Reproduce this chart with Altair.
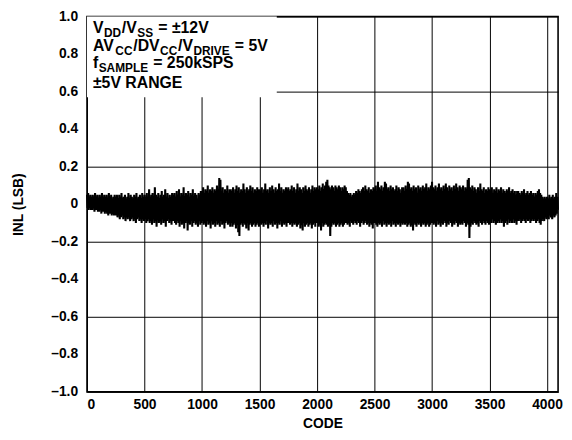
import altair as alt
import pandas as pd

# INL (LSB), one value every 5 codes, in blocks of 250 codes
inl_0000 = [0.05,-0.02, 0.06,-0.03, 0.04,-0.02, 0.05,-0.03, 0.03,-0.03,
            0.05,-0.02, 0.04,-0.04, 0.06,-0.03, 0.04,-0.03, 0.05,-0.04,
            0.03,-0.04, 0.05,-0.03, 0.04,-0.05, 0.06,-0.04, 0.03,-0.04,
            0.05,-0.05, 0.04,-0.04, 0.05,-0.05, 0.03,-0.06, 0.06,-0.05,
            0.04,-0.05, 0.05,-0.06, 0.03,-0.05, 0.04,-0.06, 0.05,-0.06]
inl_0250 = [0.04,-0.06, 0.05,-0.07, 0.03,-0.06, 0.05,-0.08, 0.04,-0.07,
            0.06,-0.06, 0.03,-0.08, 0.04,-0.07, 0.05,-0.09, 0.03,-0.07,
            0.04,-0.08, 0.06,-0.07, 0.03,-0.09, 0.05,-0.08, 0.04,-0.07,
            0.03,-0.09, 0.05,-0.08, 0.04,-0.10, 0.06,-0.08, 0.03,-0.07,
            0.04,-0.09, 0.05,-0.08, 0.03,-0.10, 0.06,-0.08, 0.04,-0.09]
inl_0500 = [0.05,-0.08, 0.04,-0.10, 0.06,-0.09, 0.03,-0.08, 0.08,-0.10,
            0.04,-0.09, 0.05,-0.11, 0.06,-0.08, 0.04,-0.10, 0.09,-0.09,
            0.05,-0.12, 0.04,-0.08, 0.06,-0.10, 0.03,-0.09, 0.05,-0.11,
            0.07,-0.08, 0.04,-0.10, 0.05,-0.09, 0.08,-0.12, 0.04,-0.09,
            0.06,-0.08, 0.03,-0.10, 0.05,-0.09, 0.04,-0.11, 0.06,-0.09]
inl_0750 = [0.05,-0.09, 0.06,-0.10, 0.04,-0.11, 0.07,-0.09, 0.05,-0.10,
            0.08,-0.12, 0.04,-0.09, 0.06,-0.11, 0.05,-0.10, 0.09,-0.13,
            0.04,-0.10, 0.06,-0.09, 0.05,-0.14, 0.07,-0.10, 0.04,-0.11,
            0.06,-0.09, 0.05,-0.12, 0.08,-0.10, 0.04,-0.09, 0.06,-0.11,
            0.05,-0.10, 0.03,-0.12, 0.06,-0.09, 0.05,-0.11, 0.07,-0.10]
inl_1000 = [0.07,-0.09, 0.09,-0.11, 0.06,-0.10, 0.08,-0.12, 0.07,-0.09,
            0.10,-0.11, 0.06,-0.10, 0.08,-0.13, 0.07,-0.09, 0.09,-0.11,
            0.06,-0.10, 0.08,-0.12, 0.07,-0.09, 0.10,-0.11, 0.08,-0.10,
            0.14,-0.12, 0.13,-0.09, 0.07,-0.11, 0.09,-0.10, 0.06,-0.13,
            0.08,-0.10, 0.07,-0.09, 0.10,-0.11, 0.06,-0.10, 0.08,-0.12]
inl_1250 = [0.08,-0.10, 0.07,-0.12, 0.09,-0.11, 0.06,-0.10, 0.08,-0.13,
            0.10,-0.11, 0.07,-0.15, 0.09,-0.17, 0.06,-0.11, 0.08,-0.10,
            0.07,-0.12, 0.11,-0.10, 0.08,-0.11, 0.06,-0.13, 0.09,-0.10,
            0.07,-0.14, 0.08,-0.11, 0.10,-0.10, 0.07,-0.12, 0.09,-0.11,
            0.06,-0.10, 0.08,-0.12, 0.07,-0.11, 0.09,-0.10, 0.08,-0.12]
inl_1500 = [0.08,-0.10, 0.07,-0.11, 0.09,-0.10, 0.06,-0.12, 0.08,-0.10,
            0.11,-0.11, 0.07,-0.09, 0.08,-0.13, 0.06,-0.10, 0.09,-0.11,
            0.07,-0.10, 0.10,-0.12, 0.08,-0.09, 0.06,-0.11, 0.09,-0.10,
            0.07,-0.13, 0.08,-0.10, 0.11,-0.11, 0.07,-0.09, 0.09,-0.12,
            0.06,-0.10, 0.08,-0.11, 0.07,-0.10, 0.09,-0.12, 0.08,-0.10]
inl_1750 = [0.09,-0.10, 0.07,-0.11, 0.08,-0.10, 0.10,-0.12, 0.07,-0.10,
            0.09,-0.11, 0.06,-0.10, 0.08,-0.12, 0.11,-0.11, 0.07,-0.10,
            0.09,-0.13, 0.08,-0.11, 0.06,-0.14, 0.09,-0.10, 0.07,-0.12,
            0.10,-0.11, 0.08,-0.10, 0.07,-0.12, 0.09,-0.11, 0.06,-0.10,
            0.08,-0.13, 0.10,-0.11, 0.07,-0.10, 0.09,-0.12, 0.08,-0.10]
inl_2000 = [0.09,-0.10, 0.08,-0.12, 0.10,-0.11, 0.07,-0.14, 0.09,-0.10,
            0.11,-0.12, 0.08,-0.11, 0.10,-0.10, 0.12,-0.11, 0.13,-0.12,
            0.10,-0.11, 0.09,-0.17, 0.08,-0.12, 0.10,-0.10, 0.09,-0.11,
            0.07,-0.10, 0.10,-0.12, 0.09,-0.11, 0.08,-0.10, 0.10,-0.12,
            0.09,-0.11, 0.07,-0.10, 0.09,-0.12, 0.08,-0.11, 0.10,-0.10]
inl_2250 = [0.09,-0.10, 0.07,-0.11, 0.06,-0.10, 0.05,-0.12, 0.06,-0.09,
            0.04,-0.10, 0.05,-0.11, 0.06,-0.09, 0.05,-0.10, 0.07,-0.11,
            0.06,-0.09, 0.08,-0.10, 0.07,-0.12, 0.06,-0.10, 0.08,-0.09,
            0.09,-0.11, 0.07,-0.10, 0.10,-0.09, 0.08,-0.11, 0.07,-0.10,
            0.09,-0.12, 0.06,-0.10, 0.08,-0.11, 0.07,-0.13, 0.09,-0.10]
inl_2500 = [0.08,-0.10, 0.10,-0.11, 0.07,-0.12, 0.12,-0.10, 0.09,-0.11,
            0.08,-0.10, 0.10,-0.12, 0.07,-0.09, 0.09,-0.11, 0.12,-0.10,
            0.11,-0.12, 0.08,-0.10, 0.09,-0.11, 0.07,-0.10, 0.10,-0.12,
            0.08,-0.09, 0.09,-0.11, 0.07,-0.10, 0.08,-0.12, 0.10,-0.10,
            0.07,-0.11, 0.09,-0.10, 0.08,-0.12, 0.06,-0.10, 0.09,-0.11]
inl_2750 = [0.09,-0.10, 0.07,-0.11, 0.10,-0.10, 0.08,-0.12, 0.12,-0.11,
            0.11,-0.10, 0.08,-0.12, 0.09,-0.11, 0.07,-0.14, 0.10,-0.10,
            0.08,-0.11, 0.09,-0.12, 0.06,-0.10, 0.10,-0.11, 0.08,-0.10,
            0.09,-0.12, 0.07,-0.10, 0.10,-0.11, 0.08,-0.10, 0.09,-0.12,
            0.11,-0.11, 0.07,-0.10, 0.09,-0.12, 0.08,-0.11, 0.10,-0.10]
inl_3000 = [0.12,-0.10, 0.09,-0.11, 0.08,-0.10, 0.10,-0.12, 0.07,-0.09,
            0.09,-0.11, 0.11,-0.10, 0.08,-0.12, 0.09,-0.10, 0.07,-0.11,
            0.10,-0.09, 0.08,-0.10, 0.11,-0.12, 0.09,-0.10, 0.07,-0.11,
            0.10,-0.09, 0.08,-0.10, 0.09,-0.12, 0.07,-0.10, 0.10,-0.11,
            0.08,-0.09, 0.11,-0.10, 0.09,-0.12, 0.07,-0.10, 0.10,-0.11]
inl_3250 = [0.09,-0.10, 0.08,-0.11, 0.10,-0.09, 0.07,-0.10, 0.09,-0.12,
            0.08,-0.10, 0.13,-0.11, 0.14,-0.18, 0.09,-0.12, 0.08,-0.10,
            0.10,-0.11, 0.07,-0.09, 0.09,-0.10, 0.08,-0.11, 0.06,-0.10,
            0.09,-0.12, 0.07,-0.09, 0.11,-0.10, 0.08,-0.11, 0.07,-0.09,
            0.09,-0.10, 0.06,-0.11, 0.08,-0.09, 0.07,-0.10, 0.09,-0.11]
inl_3500 = [0.08,-0.09, 0.07,-0.10, 0.09,-0.08, 0.06,-0.10, 0.08,-0.09,
            0.07,-0.11, 0.09,-0.10, 0.06,-0.09, 0.08,-0.10, 0.07,-0.08,
            0.09,-0.10, 0.06,-0.09, 0.08,-0.12, 0.07,-0.10, 0.06,-0.09,
            0.08,-0.11, 0.07,-0.08, 0.09,-0.10, 0.06,-0.09, 0.07,-0.10,
            0.08,-0.08, 0.06,-0.10, 0.07,-0.09, 0.05,-0.11, 0.07,-0.09]
inl_3750 = [0.07,-0.09, 0.06,-0.08, 0.05,-0.10, 0.07,-0.09, 0.06,-0.08,
            0.08,-0.09, 0.05,-0.10, 0.06,-0.08, 0.07,-0.09, 0.05,-0.08,
            0.06,-0.10, 0.07,-0.09, 0.05,-0.08, 0.06,-0.09, 0.04,-0.08,
            0.06,-0.10, 0.05,-0.09, 0.07,-0.08, 0.08,-0.10, 0.06,-0.11,
            0.05,-0.09, 0.04,-0.08, 0.03,-0.09, 0.04,-0.07, 0.03,-0.08]
inl_4000 = [0.04,-0.07, 0.03,-0.08, 0.05,-0.06, 0.03,-0.07, 0.04,-0.08,
            0.05,-0.06, 0.03,-0.07, 0.04,-0.06, 0.06,-0.05, 0.04,-0.03]

blocks = [inl_0000, inl_0250, inl_0500, inl_0750, inl_1000, inl_1250, inl_1500,
          inl_1750, inl_2000, inl_2250, inl_2500, inl_2750, inl_3000, inl_3250,
          inl_3500, inl_3750, inl_4000]
inl = [v for b in blocks for v in b]
code_step = 5
codes = [code_step * i for i in range(len(inl))]

x_ticks = [0, 500, 1000, 1500, 2000, 2500, 3000, 3500, 4000]
y_ticks = [-1.0, -0.8, -0.6, -0.4, -0.2, 0.0, 0.2, 0.4, 0.6, 0.8, 1.0]
y_tick_labels = ["\u20131.0", "\u20130.8", "\u20130.6", "\u20130.4", "\u20130.2", "0",
                 "0.2", "0.4", "0.6", "0.8", "1.0"]

df = pd.DataFrame({"code": codes, "inl": inl})
ylab = pd.DataFrame({"inl": y_ticks, "label": y_tick_labels})
# white background behind the condition text (covers the grid there)
box = pd.DataFrame({"code": [0], "code2": [1650], "inl": [0.57], "inl2": [1.0]})

FONT = "Liberation Sans"
W, H = 477, 380
LEFT, TOP = 88, 14

x_enc = alt.X("code:Q", scale=alt.Scale(domain=[0, 4096], nice=False, zero=False),
              axis=alt.Axis(values=x_ticks, format="d", title="CODE",
                            titleX=W / 2, titleY=32, titleBaseline="middle",
                            titleAlign="center", labelPadding=6, labelOverlap=False))
y_enc = alt.Y("inl:Q", scale=alt.Scale(domain=[-1, 1], nice=False, zero=False),
              axis=alt.Axis(values=y_ticks, title="INL (LSB)", labels=False,
                            titleX=-69, titleY=H / 2, titleBaseline="middle",
                            titleAlign="center"))

line = alt.Chart(df).mark_line(color="black", strokeWidth=2.1, interpolate="linear").encode(
    x=x_enc, y=y_enc)

rect = alt.Chart(box).mark_rect(fill="white").encode(
    x="code:Q", x2="code2:Q", y="inl:Q", y2="inl2:Q")

ylabels = alt.Chart(ylab).mark_text(align="right", baseline="middle", font=FONT,
                                    fontWeight="bold", fontSize=14, color="black").encode(
    x=alt.value(-9), y="inl:Q", text="label:N")

# Arial/Liberation Sans Bold advance widths (per em) for laying out the pieces
ADV = {"A": .722, "V": .667, "C": .722, "D": .722, "/": .278, "S": .667, "R": .722,
       "I": .278, "E": .667, "M": .833, "P": .667, "L": .611, "f": .333, "=": .584,
       " ": .278, "\u00b1": .549, "1": .556, "2": .556, "5": .556, "0": .556,
       "k": .556, "N": .722, "G": .778}

MAIN, SUB = 16, 12
lines = [
    (30.5, [("V", 0), ("DD", 1), ("/V", 0), ("SS", 1), (" = \u00b112V", 0)]),
    (48.5, [("AV", 0), ("CC", 1), ("/DV", 0), ("CC", 1), ("/V", 0), ("DRIVE", 1), (" = 5V", 0)]),
    (66.5, [("f", 0), ("SAMPLE", 1), (" = 250kSPS", 0)]),
    (86.5, [("\u00b15V RANGE", 0)]),
]
texts = []
for base, parts in lines:
    x = 94.0
    for t, sub in parts:
        fs = SUB if sub else MAIN
        y = base + (4 if sub else 0)
        lead = len(t) - len(t.lstrip(" "))
        x += lead * ADV[" "] * fs
        t = t.lstrip(" ")
        texts.append(
            alt.Chart(df.head(1)).mark_text(text=t, align="left", baseline="alphabetic",
                                            font=FONT, fontWeight="bold", fontSize=fs,
                                            color="black")
            .encode(x=alt.value(x - LEFT), y=alt.value(y - TOP))
        )
        x += sum(ADV.get(c, .6) for c in t) * fs + (0.8 if sub else 0.5)

chart = alt.layer(line, rect, ylabels, *texts).properties(
    width=W, height=H,
    autosize=alt.AutoSizeParams(type="none"),
    padding={"left": LEFT - 8, "top": TOP - 8, "right": 6, "bottom": 40},
).configure_view(
    stroke="black", strokeWidth=1.6
).configure_axis(
    grid=True, gridColor="black", gridOpacity=1, gridWidth=1,
    domain=False, ticks=False, labelOverlap=False,
    labelFont=FONT, labelFontWeight="bold", labelFontSize=14, labelColor="black",
    titleFont=FONT, titleFontWeight="bold", titleFontSize=14, titleColor="black",
)

chart.save("out.html", embed_options={"renderer": "svg", "actions": False})
